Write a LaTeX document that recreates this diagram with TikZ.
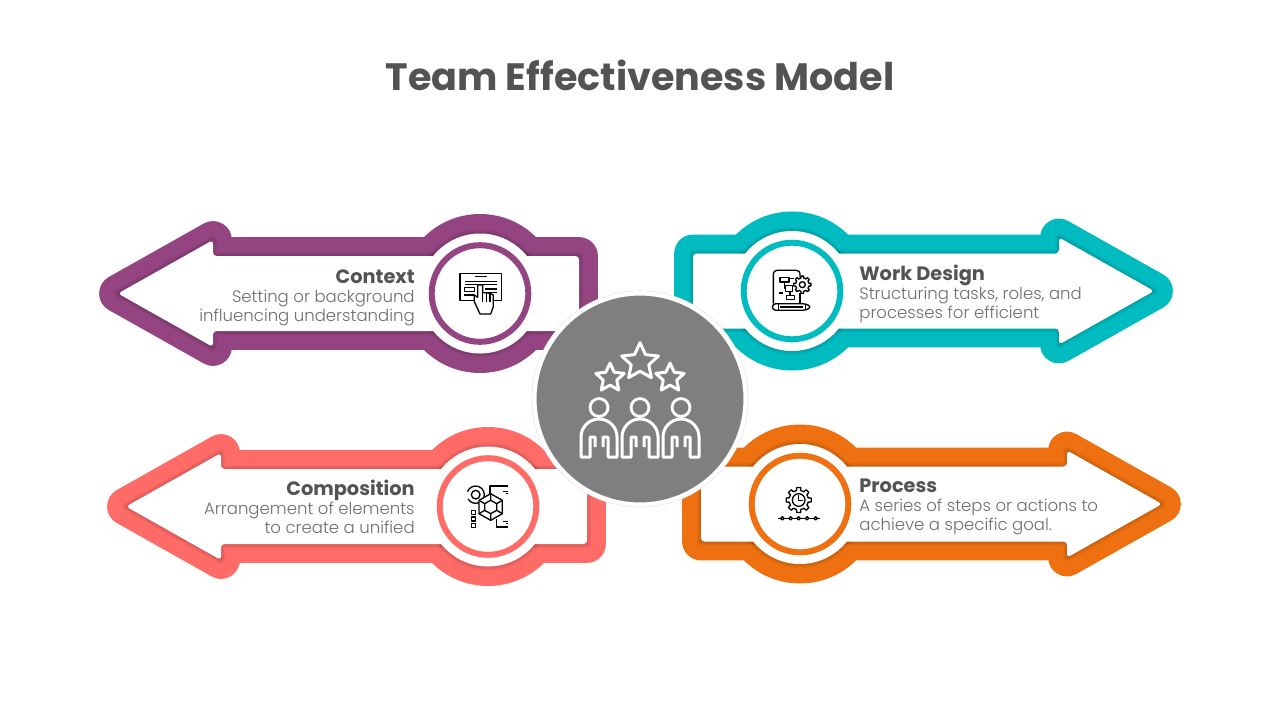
\documentclass[tikz,border=0pt]{standalone}
\usepackage{fontspec}
\setmainfont{Poppins}
\newfontfamily\lightfont{Poppins Light}
\usetikzlibrary{shapes.geometric}
\definecolor{purpleband}{HTML}{934481}
\definecolor{tealband}{HTML}{00BCC1}
\definecolor{coralband}{HTML}{FF6B67}
\definecolor{orangeband}{HTML}{EE7011}
\definecolor{hubgray}{HTML}{7F7F7F}
\definecolor{headtext}{HTML}{535353}
\definecolor{bodytext}{HTML}{6E6E6E}

% name, centre x, centre y, direction, colour
\newcommand{\bandarrow}[5]{
  \begin{scope}[shift={(#2,#3)}, xscale=#4]
    \draw[band, #5] (-362,0) -- (-267,-53.5) -- (-267,-37.5) -- (99,-37.5) -- (99,37.5) -- (-267,37.5) -- (-267,53.5) -- cycle;
    \fill[#5] (0,0) circle (79.5);
    \foreach \w in {2,4,6,8} {
      \draw[line width=\w*0.57pt, black, opacity=0.035, line join=round] (-362,0) -- (-267,-53.5) -- (-267,-37.5) -- (99,-37.5) -- (99,37.5) -- (-267,37.5) -- (-267,53.5) -- cycle;
      \draw[line width=\w*0.57pt, black, opacity=0.035] (0,0) circle (60);
    }
    \fill[white, rounded corners=2pt] (-362,0) -- (-267,-53.5) -- (-267,-37.5) -- (99,-37.5) -- (99,37.5) -- (-267,37.5) -- (-267,53.5) -- cycle;
    \fill[white] (0,0) circle (60);
    \node[ring, draw=#5] (#1) at (0,0) {};
  \end{scope}
}

\newcommand{\gearicon}[4]{
  \begin{scope}[shift={(#1,#2)}]
    \foreach \a in {0,45,...,315} {
      \draw[iconline] (\a-22.5:#3) -- (\a-13:#3) -- (\a-9:#4) -- (\a+9:#4) -- (\a+13:#3) -- (\a+22.5:#3);
    }
  \end{scope}
}

\begin{document}
\begin{tikzpicture}[x=0.02cm, y=-0.02cm,
  band/.style = {line width=21.5pt, line join=round},
  ring/.style = {circle, line width=3.4pt, fill=white, minimum size=97*0.5669pt, inner sep=0pt},
  iconline/.style = {black, line width=0.75pt, line join=round},
  heading/.style = {font=\fontsize{11}{13}\selectfont\bfseries, text=headtext, inner sep=0pt},
  bodycopy/.style = {font=\fontsize{9.4}{10.8}\selectfont\lightfont, text=bodytext, inner sep=0pt},
  hub/.style = {circle, fill=hubgray, draw=white, line width=2.4pt, minimum size=212*0.5669pt, inner sep=0pt},
  staricon/.style = {star, star points=5, star point ratio=2.1, draw=white, line width=1.7pt, line join=round, inner sep=0pt},
  headicon/.style = {circle, draw=white, line width=1.6pt, minimum size=18*0.5669pt, inner sep=0pt},
  bodyline/.style = {white, line width=1.7pt, line join=round}]
  \useasboundingbox (0,0) rectangle (1280,720);

  \node[font=\fontsize{21.7}{26}\selectfont\bfseries, text=headtext] (title) at (640,75.5) {Team Effectiveness Model};

  \bandarrow{contextring}{480}{293.5}{1}{purpleband}
  \bandarrow{workring}{792}{291}{-1}{tealband}
  \bandarrow{compositionring}{488}{506.5}{1}{coralband}
  \bandarrow{processring}{800}{504}{-1}{orangeband}

  % texts
  \node[heading, anchor=mid east] (contexthead) at (415,279) {Context};
  \node[bodycopy, anchor=north east, align=right] (contextbody) at (415,290) {Setting or background\\influencing understanding};
  \node[heading, anchor=mid west] (workhead) at (859,276) {Work Design};
  \node[bodycopy, anchor=north west, align=left] (workbody) at (859,287) {Structuring tasks, roles, and\\processes for efficient};
  \node[heading, anchor=mid east] (compositionhead) at (415,491) {Composition};
  \node[bodycopy, anchor=north east, align=right] (compositionbody) at (415,502) {Arrangement of elements\\to create a unified};
  \node[heading, anchor=mid west] (processhead) at (859,488) {Process};
  \node[bodycopy, anchor=north west, align=left] (processbody) at (859,499) {A series of steps or actions to\\achieve a specific goal.};

  % context icon
  \begin{scope}[shift={(430,240)}, scale=1/3]
    \draw[iconline] (90,100) rectangle (215,182);
    \draw[iconline] (135,110) -- (170,110);
    \draw[iconline] (105,125) -- (200,125) (105,133) -- (200,133);
    \draw[iconline] (103,143) rectangle (133,155);
    \draw[iconline] (103,165) -- (133,165) (165,147) -- (200,147) (165,157) -- (200,157);
    \filldraw[iconline, fill=white] (143,135) -- (143,172) -- (133,165) -- (133,185) -- (150,222) -- (182,222) -- (190,200) -- (190,165) -- (180,160) -- (170,158) -- (158,158) -- (158,135) -- cycle;
    \draw[iconline] (158,158) -- (158,185) (170,158) -- (170,185) (180,160) -- (180,185);
  \end{scope}

  % work design icon
  \begin{scope}[shift={(740,238)}, scale=1/3]
    \draw[iconline, rounded corners=2pt] (100,197) -- (100,97) -- (180,97) -- (180,118);
    \draw[iconline] (180,165) -- (180,197);
    \draw[iconline] (120,118) rectangle (147,132);
    \draw[iconline] (137,143) rectangle (157,160);
    \draw[iconline] (140,172) rectangle (163,184);
    \draw[iconline] (133,132) -- (133,150) -- (137,150) (150,160) -- (150,172);
    \draw[iconline] (150,122) -- (162,122) (118,165) -- (130,165);
    \draw[iconline, rounded corners=2pt] (97,197) -- (197,197) -- (215,207) -- (197,217) -- (97,217) -- cycle;
    \draw[iconline] (115,197) -- (115,217) (197,197) -- (197,217) (120,207) -- (190,207);
    \gearicon{187}{140}{20}{26}
    \draw[iconline] (187,140) circle (9);
  \end{scope}

  % composition icon
  \begin{scope}[shift={(435,452)}, scale=1/3]
    \draw[iconline] (122,128) circle (13);
    \draw[iconline] ([shift={(200:26)}]122,128) arc (200:510:26);
    \filldraw[iconline, fill=white] (167,125) -- (202,145) -- (202,185) -- (167,205) -- (132,185) -- (132,145) -- cycle;
    \draw[iconline] (167,145) -- (185,155) -- (185,175) -- (167,185) -- (149,175) -- (149,155) -- cycle;
    \draw[iconline] (167,125) -- (167,145) (202,145) -- (185,155) (202,185) -- (185,175) (167,205) -- (167,185) (132,185) -- (149,175) (132,145) -- (149,155);
    \draw[iconline] (109,176) rectangle (121,188);
    \draw[iconline] (109,195) rectangle (121,207);
    \draw[iconline] (109,214) rectangle (121,226);
    \draw[iconline] (165,125) -- (165,102) -- (220,102) (205,118) -- (220,118) (212,125) -- (220,125);
    \draw[iconline] (185,200) -- (185,225) -- (220,225) (205,208) -- (220,208) (212,215) -- (220,215);
  \end{scope}

  % process icon
  \begin{scope}[shift={(745,450)}, scale=1/3]
    \gearicon{161}{150}{29}{38}
    \draw[iconline] (161,150) circle (19);
    \draw[iconline] (161,136) -- (161,152) -- (173,152);
    \draw[iconline] (100,205) -- (225,205);
    \foreach \x in {112,137,161,186,212} {
      \filldraw[iconline, fill=white] (\x,205) circle (5);
    }
  \end{scope}

  % centre
  \fill[black!8] (640,399) circle (108.5);
  \node[hub] (centre) at (640,399) {};
  \node[staricon, minimum size=22pt] (bigstar) at (640,362) {};
  \node[staricon, minimum size=17pt] (leftstar) at (610,378) {};
  \node[staricon, minimum size=17pt] (rightstar) at (670,378) {};
  \foreach \x/\who in {599/lefthead, 640/midhead, 681/righthead} {
    \node[headicon] (\who) at (\x,407.5) {};
    \draw[bodyline] (\x-4,447) -- (\x-4,437) -- (\x-9,437) -- (\x-9,457) -- (\x-18,457) -- (\x-18,437) arc (180:360:18) -- (\x+18,457) -- (\x+9,457) -- (\x+9,437) -- (\x+4,437) -- (\x+4,447);
  }
\end{tikzpicture}
\end{document}
